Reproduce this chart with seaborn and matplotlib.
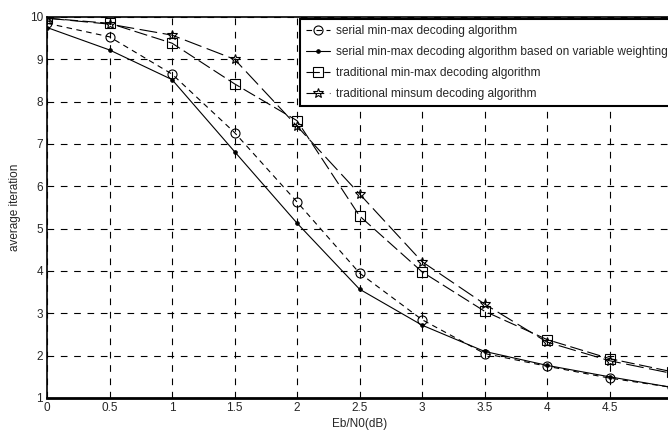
import pandas as pd
import numpy as np
import matplotlib
matplotlib.use('Agg')
import matplotlib.pyplot as plt
import seaborn as sns

# values
ebn0 = [0, 0.5, 1, 1.5, 2, 2.5, 3, 3.5, 4, 4.5, 5]
serial_minmax = [9.85, 9.53, 8.65, 7.27, 5.63, 3.95, 2.85, 2.05, 1.75, 1.47, 1.25]
serial_weighted = [9.75, 9.22, 8.52, 6.82, 5.13, 3.57, 2.72, 2.10, 1.77, 1.50, 1.25]
trad_minmax = [9.97, 9.85, 9.38, 8.42, 7.55, 5.30, 3.98, 3.05, 2.38, 1.93, 1.62]
trad_minsum = [9.97, 9.83, 9.57, 9.00, 7.42, 5.82, 4.22, 3.22, 2.32, 1.88, 1.58]

labels = ['serial min-max decoding algorithm',
          'serial min-max decoding algorithm based on variable weighting',
          'traditional min-max decoding algorithm',
          'traditional minsum decoding algorithm']
xticks = [0, 0.5, 1, 1.5, 2, 2.5, 3, 3.5, 4, 4.5]
yticks = [1, 2, 3, 4, 5, 6, 7, 8, 9, 10]

sns.set_style('white')
plt.rcParams['font.family'] = ['Liberation Sans', 'DejaVu Sans']

fig = plt.figure(figsize=(6.68, 4.34), dpi=100)
ax = fig.add_axes([0.0704, 0.083, 0.9356, 0.878])

series = [serial_minmax, serial_weighted, trad_minmax, trad_minsum]
styles = [
    dict(marker='o', markersize=6.5, dashes=(5, 4), mfc='none'),
    dict(marker='.', markersize=5, linestyle='-', mfc='black'),
    dict(marker='s', markersize=6.5, dashes=(12, 4), mfc='none'),
    dict(marker='*', markersize=7, dashes=(16, 5), mfc='none'),
]
for vals, lab, st in zip(series, labels, styles):
    sns.lineplot(x=ebn0, y=vals, ax=ax, color='black', linewidth=0.8,
                 label=lab, markeredgecolor='black', markeredgewidth=0.8, **st)

ax.set_xlim(0, 5)
ax.set_ylim(1, 10)
ax.set_xticks(xticks)
ax.set_xticklabels([f'{t:g}' for t in xticks])
ax.set_yticks(yticks)
ax.grid(True, color='black', linestyle=(0, (6, 6)), linewidth=0.8)
ax.tick_params(labelsize=8.5, length=0, pad=3)
for s in ['left', 'top', 'bottom', 'right']:
    ax.spines[s].set_color('black')
ax.spines['left'].set_linewidth(1.2)
ax.spines['top'].set_linewidth(1.2)
ax.spines['bottom'].set_linewidth(2)
ax.set_xlabel('Eb/N0(dB)', fontsize=8.5, labelpad=3)
ax.set_ylabel('average iteration', fontsize=8.5, labelpad=6)

leg = ax.legend(loc='upper left', bbox_to_anchor=(0.449, 0.956),
                bbox_transform=fig.transFigure, fontsize=8.6, frameon=True,
                fancybox=False, edgecolor='black', framealpha=1,
                handlelength=2.0, handletextpad=0.5, borderpad=0.5,
                labelspacing=0.75, borderaxespad=0)
leg.get_frame().set_linewidth(1.5)

fig.savefig('out.png', dpi=100)
